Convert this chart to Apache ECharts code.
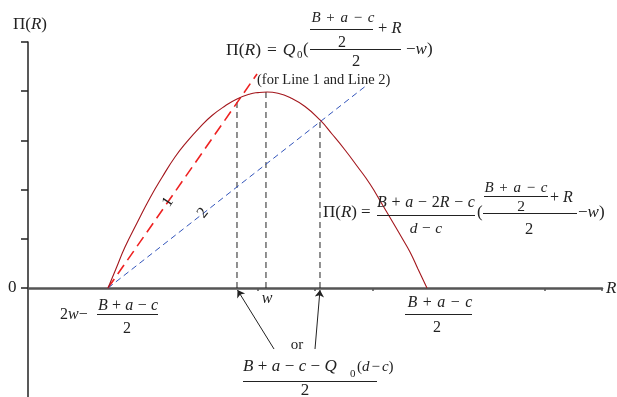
<!DOCTYPE html>
<html><head><meta charset="utf-8">
<script src="https://cdn.jsdelivr.net/npm/echarts@6/dist/echarts.min.js"></script>
<style>html,body{margin:0;padding:0;background:#fff}#c{width:617px;height:397px}</style>
</head><body><div id="c"></div>
<script>
// ---- data (axis units: x 0..10, y -2.215..5) ----
const curveX = [1.394,1.533,1.690,1.899,2.125,2.334,2.561,2.770,2.997,3.206,3.432,3.641,3.868,4.007,4.164,4.355,4.564,4.826,5.087,5.296,5.523,5.732,5.958,6.167,6.394,6.516,6.655,6.794,6.951];
const curveY = [0,0.390,0.833,1.321,1.829,2.246,2.663,2.976,3.272,3.506,3.699,3.841,3.943,3.972,3.984,3.959,3.872,3.689,3.415,3.130,2.805,2.480,2.114,1.707,1.260,1.016,0.732,0.386,0];
const line1X = [1.394, 3.990];
const line1Y = [0, 4.350];
const line2X = [1.394, 5.906];
const line2Y = [0, 4.126];
const guideX = [3.641, 4.146, 5.087];
const guideTop = [3.82, 3.984, 3.415];
const arrowFromX = [4.286, 5.0];
const arrowFromY = [-1.240, -1.240];
const arrowToX = [3.650, 5.087];
const arrowToY = [-0.041, -0.041];
const xTicks = [4, 5, 6, 9, 10];
const yTicks = [0, 1, 2, 3, 4, 5];

const F = '"Liberation Serif","DejaVu Serif",serif';
const INK = '#222';
function T(x, y, text, size, align, pad, extra) {
  const el = {
    type: 'text', x: x, y: y, z: 100,
    style: {
      text: text, fontFamily: F, fontSize: size, fill: INK,
      align: align || 'left', verticalAlign: 'middle',
      rich: {
        i: { fontStyle: 'italic', fontFamily: F, fontSize: size, fill: INK },
        o: { fontFamily: F, fontSize: size, fill: INK, padding: [0, pad || 0] }
      }
    }
  };
  if (extra) Object.assign(el, extra);
  return el;
}
function L(x1, y1, x2, y2) {
  return { type: 'line', z: 100, shape: { x1: x1, y1: y1, x2: x2, y2: y2 }, style: { stroke: INK, lineWidth: 1 } };
}

const zip = (a, b) => a.map((v, k) => [v, b[k]]);
const dashBlack = { color: '#222', width: 1, type: [6, 4] };

const series = [
  { type: 'line', data: zip(curveX, curveY), smooth: 0.5, symbol: 'none',
    lineStyle: { color: '#a3161c', width: 1.1 }, z: 5 },
  { type: 'line', data: zip(line1X, line1Y), symbol: 'none',
    lineStyle: { color: '#ee2222', width: 1.6, type: [11, 6] }, z: 4 },
  { type: 'line', data: zip(line2X, line2Y), symbol: 'none',
    lineStyle: { color: '#3355bb', width: 1, type: [6, 4] }, z: 4 }
];
guideX.forEach((gx, k) => {
  series.push({ type: 'line', data: [[gx, 0], [gx, guideTop[k]]], symbol: 'none', lineStyle: dashBlack, z: 3 });
});
series.push({
  type: 'lines', coordinateSystem: 'cartesian2d', z: 6,
  symbol: ['none', 'arrow'], symbolSize: 7,
  lineStyle: { color: '#222', width: 1, opacity: 1 },
  data: arrowFromX.map((v, k) => ({ coords: [[v, arrowFromY[k]], [arrowToX[k], arrowToY[k]]] }))
});

const graphic = [
  T(13, 25, 'Π({i|R})', 17),
  T(8, 288, '0', 17),
  // left root label
  T(60, 315, '2{i|w}−', 16),
  T(128, 306, '{i|B}{o|+}{i|a}{o|−}{i|c}', 16, 'center', 4.3),
  L(97, 314.5, 158, 314.5),
  T(127, 329, '2', 16, 'center'),
  // right root label
  T(440, 303, '{i|B}{o|+}{i|a}{o|−}{i|c}', 16, 'center', 5.5),
  L(405, 314.5, 472, 314.5),
  T(437, 328, '2', 16, 'center'),
  T(267, 299, '{i|w}', 16, 'center'),
  T(606, 289, '{i|R}', 17),
  T(297, 345, 'or', 15, 'center'),
  // bottom fraction
  T(243, 367, '{i|B}{o|+}{i|a}{o|−}{i|c}{o|−}{i|Q}', 17, 'left', 4.4),
  T(350, 374, '0', 11),
  T(357, 367, '({i|d}{o|−}{i|c})', 15, 'left', 2),
  L(243, 381.5, 377, 381.5),
  T(305, 391, '2', 17, 'center'),
  // top formula
  T(257, 80, '(for Line 1 and Line 2)', 14.5),
  T(226, 50, 'Π({i|R}){o|=}{i|Q}', 17.5, 'left', 6),
  T(297, 55, '0', 11),
  T(303, 50, '(', 17),
  T(343, 18, '{i|B}{o|+}{i|a}{o|−}{i|c}', 15, 'center', 5.7),
  L(310, 29.5, 373, 29.5),
  T(342, 43, '2', 16, 'center'),
  T(378, 29, '+ {i|R}', 16.5),
  L(310, 49.5, 401, 49.5),
  T(356, 62, '2', 16.5, 'center'),
  T(406, 50, '−{i|w})', 17),
  // right formula
  T(323, 213, 'Π({i|R}){o|=}', 17, 'left', 4),
  T(426, 203, '{i|B}{o|+}{i|a}{o|−}2{i|R}{o|−}{i|c}', 16, 'center', 4.7),
  L(377, 215.5, 475, 215.5),
  T(426, 229, '{i|d}{o|−}{i|c}', 15.5, 'center', 4.5),
  T(477, 213, '(', 17),
  T(516, 188, '{i|B}{o|+}{i|a}{o|−}{i|c}', 15, 'center', 5.7),
  L(484, 196.5, 548, 196.5),
  T(521, 207, '2', 15.5, 'center'),
  T(550, 198, '+ {i|R}', 16),
  L(483, 213.5, 577, 213.5),
  T(529, 230, '2', 16.5, 'center'),
  T(578, 213, '−{i|w})', 17),
  // line labels
  T(168, 202, '1', 16, 'center', 0, { rotation: 0.98 }),
  T(203, 213, '2', 16, 'center', 0, { rotation: 0.9 })
];

const chart = echarts.init(document.getElementById('c'), null, { renderer: 'canvas' });
chart.setOption({
  animation: false,
  backgroundColor: '#fff',
  grid: { left: 28, right: 15, top: 42, bottom: 0, containLabel: false, outerBoundsMode: 'none' },
  xAxis: {
    type: 'value', min: 0, max: 10,
    axisLine: { show: true, onZero: true, lineStyle: { color: '#555', width: 2.5 } },
    axisTick: { show: true, customValues: xTicks, length: 3, inside: false, lineStyle: { color: '#555', width: 1.5 } },
    axisLabel: { show: false }, splitLine: { show: false }
  },
  yAxis: {
    type: 'value', min: -2.215, max: 5,
    axisLine: { show: true, onZero: false, lineStyle: { color: '#222', width: 1.5 } },
    axisTick: { show: true, customValues: yTicks, length: 7, lineStyle: { color: '#222', width: 1.5 } },
    axisLabel: { show: false }, splitLine: { show: false }
  },
  series: series,
  graphic: graphic
});
</script></body></html>
